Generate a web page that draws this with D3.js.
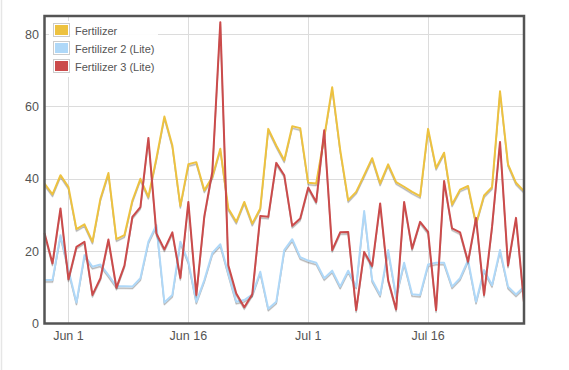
<!DOCTYPE html>
<html>
<head>
<meta charset="utf-8">
<script src="https://cdn.jsdelivr.net/npm/d3@7"></script>
<style>
  body { margin: 0; background: #fff; }
  svg { display: block; font-family: "Liberation Sans", Arial, sans-serif; }
</style>
</head>
<body>
<svg id="chart"></svg>
<script>
// daily values, May 29 .. Jul 28
const startDate = "2013-05-29";
const endDate = "2013-07-28";

const seriesNames = ["Fertilizer", "Fertilizer 2 (Lite)", "Fertilizer 3 (Lite)"];
const seriesColors = ["#edc240", "#afd8f8", "#cb4b4b"];

const fertilizer = [38.7, 35.7, 41, 37.7, 26.1, 27.4, 22.6, 34.5, 41.6, 23.3,
  24.4, 34, 40, 35, 45.6, 57.2, 49.2, 32.5, 44, 44.6,
  36.8, 40.5, 48.3, 31.8, 28.1, 33.6, 27.6, 31.8, 53.8, 49.2,
  45.1, 54.5, 54, 38.9, 38.7, 51.5, 65.3, 48, 34.1, 36.4,
  41, 45.7, 38.7, 44, 39.1, 37.8, 36.4, 35.2, 53.8, 43,
  47.2, 32.9, 37, 38, 27.6, 35.4, 37.7, 64.2, 44, 38.9, 36.6];

const fertilizer2 = [12, 12, 24.4, 14.8, 5.8, 18.9, 15.7, 16.3, 13.4, 10.3,
  10.3, 10.2, 12.5, 22.6, 27.2, 5.8, 7.9, 22.6, 17.1, 6,
  12, 19.5, 21.9, 13.8, 6, 6.5, 8, 14.3, 4.1, 6,
  20.3, 23.3, 18.3, 17.4, 16.8, 12.5, 14.6, 10.2, 14.6, 10.2,
  31.1, 12, 7.9, 20.3, 7.5, 16.8, 8.1, 7.9, 16.3, 16.8,
  16.8, 10.2, 12.5, 17.5, 6, 14.8, 10.6, 20.3, 10.2, 8, 10.2];

const fertilizer3 = [25, 16.6, 31.8, 12.2, 21.2, 22.6, 7.9, 12.5, 23.2, 9.9,
  16, 29.5, 32.2, 51.3, 24.9, 20.5, 25.2, 12.6, 33.6, 7.9,
  29.7, 42, 83.3, 16.1, 8.3, 4.5, 8.1, 29.7, 29.5, 44.4,
  41, 27, 29, 37.6, 33.6, 53.4, 20.3, 25.2, 25.3, 3.7,
  19.8, 15.9, 33.2, 12, 3.9, 33.6, 20.7, 28.1, 25.3, 3.7,
  39.4, 26.3, 25.2, 17.1, 29.2, 7.9, 26.7, 50.2, 16, 29.2, 5.8];

const xTickDates = ["2013-06-01", "2013-06-16", "2013-07-01", "2013-07-16"];
const xTickLabels = ["Jun 1", "Jun 16", "Jul 1", "Jul 16"];
const yTicks = [0, 20, 40, 60, 80];

const W = 569, H = 370;
const plotL = 44.5, plotR = 524, plotT = 16, plotB = 323.5;

const parse = d3.timeParse("%Y-%m-%d");
const dates = d3.timeDay.range(parse(startDate), d3.timeDay.offset(parse(endDate), 1));
const allSeries = [fertilizer, fertilizer2, fertilizer3];

const svg = d3.select("#chart").attr("width", W).attr("height", H);

// faint page edge
svg.append("line").attr("x1", 1.5).attr("x2", 1.5).attr("y1", 0).attr("y2", H)
  .attr("stroke", "#e6e6e6").attr("stroke-width", 1.5);

const x = d3.scaleTime().domain([parse(startDate), parse(endDate)]).range([plotL, plotR]);
const y = d3.scaleLinear().domain([0, 85]).range([plotB, plotT]);

// grid
const grid = svg.append("g");
grid.selectAll(".hg").data(yTicks.slice(1)).enter().append("line")
  .attr("x1", plotL).attr("x2", plotR)
  .attr("y1", d => Math.round(y(d)) + 0.5).attr("y2", d => Math.round(y(d)) + 0.5)
  .attr("stroke", "#dcdcdc").attr("stroke-width", 1);
grid.selectAll(".vg").data(xTickDates).enter().append("line")
  .attr("x1", d => Math.round(x(parse(d))) + 0.5).attr("x2", d => Math.round(x(parse(d))) + 0.5)
  .attr("y1", plotT).attr("y2", plotB)
  .attr("stroke", "#dcdcdc").attr("stroke-width", 1);

// axis labels
svg.selectAll(".yl").data(yTicks).enter().append("text")
  .attr("x", 39).attr("y", d => y(d)).attr("dy", "0.36em")
  .attr("text-anchor", "end").attr("font-size", "12.5px").attr("fill", "#545454")
  .text(d => d);
svg.selectAll(".xl").data(xTickDates).enter().append("text")
  .attr("x", d => x(parse(d))).attr("y", 340)
  .attr("text-anchor", "middle").attr("font-size", "12.5px").attr("fill", "#545454")
  .text((d, i) => xTickLabels[i]);

// lines with shadows
const line = d3.line().x((d, i) => x(dates[i])).y(d => y(d));
const plot = svg.append("g");
allSeries.forEach((vals, s) => {
  plot.append("path").datum(vals).attr("d", line)
    .attr("transform", "translate(0,2.5)")
    .attr("fill", "none").attr("stroke", "rgba(0,0,0,0.1)").attr("stroke-width", 1.5)
    .attr("stroke-linejoin", "round");
  plot.append("path").datum(vals).attr("d", line)
    .attr("transform", "translate(0,1.75)")
    .attr("fill", "none").attr("stroke", "rgba(0,0,0,0.2)").attr("stroke-width", 1.5)
    .attr("stroke-linejoin", "round");
  plot.append("path").datum(vals).attr("d", line)
    .attr("fill", "none").attr("stroke", seriesColors[s]).attr("stroke-width", 2)
    .attr("stroke-linejoin", "round");
});

// frame
svg.append("rect").attr("x", plotL).attr("y", plotT)
  .attr("width", plotR - plotL).attr("height", plotB - plotT)
  .attr("fill", "none").attr("stroke", "#545454").attr("stroke-width", 2.5);

// legend
const legend = svg.append("g").attr("transform", "translate(49,21)");
legend.append("rect").attr("width", 109).attr("height", 56)
  .attr("fill", "#fff").attr("opacity", 0.92);
const items = legend.selectAll(".item").data(seriesNames).enter().append("g")
  .attr("transform", (d, i) => `translate(0,${i * 18})`);
items.append("rect").attr("x", 4.5).attr("y", 2.5).attr("width", 16).attr("height", 13)
  .attr("fill", "#fff").attr("stroke", "#ccc");
items.append("rect").attr("x", 6).attr("y", 4).attr("width", 13).attr("height", 10)
  .attr("fill", (d, i) => seriesColors[i]);
items.append("text").attr("x", 26).attr("y", 13.5)
  .attr("font-size", "11px").attr("fill", "#545454")
  .text(d => d);
</script>
</body>
</html>
